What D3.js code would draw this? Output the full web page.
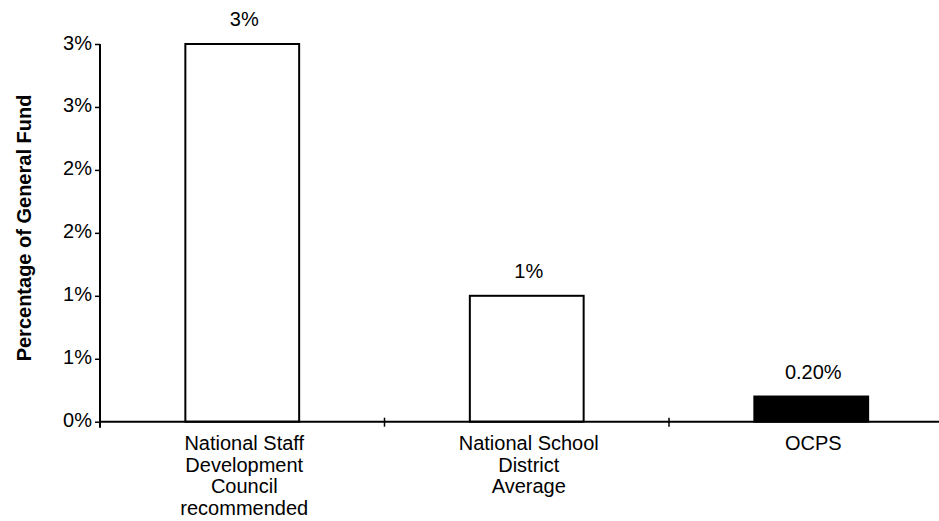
<!DOCTYPE html>
<html>
<head>
<meta charset="utf-8">
<script src="https://cdn.jsdelivr.net/npm/d3@7"></script>
<style>
  html, body { margin: 0; padding: 0; background: #fff; }
  svg { display: block; font-family: "Liberation Sans", Arial, sans-serif; }
</style>
</head>
<body>
<svg id="chart" width="939" height="521"></svg>
<script>
// Share of the general fund spent on staff development
const categories = [
  ["National Staff", "Development", "Council", "recommended"],
  ["National School", "District", "Average"],
  ["OCPS"]
];
const values = [3, 1, 0.2];
const valueLabels = ["3%", "1%", "0.20%"];
const barFills = ["#ffffff", "#ffffff", "#000000"];
const yTickValues = [0, 0.5, 1, 1.5, 2, 2.5, 3];
const yTickLabels = ["0%", "1%", "1%", "2%", "2%", "3%", "3%"];
const yTitle = "Percentage of General Fund";

const svg = d3.select("#chart");
const plotLeft = 100, plotRight = 953.5, plotTop = 44, plotBottom = 421.7;

const x = d3.scaleBand()
  .domain(d3.range(values.length))
  .range([plotLeft, plotRight])
  .paddingInner(0.6)
  .paddingOuter(0.3);

const y = d3.scaleLinear().domain([0, 3]).range([plotBottom, plotTop]);

// bars
svg.append("g").selectAll("rect")
  .data(values)
  .join("rect")
  .attr("x", (d, i) => x(i))
  .attr("y", d => y(d))
  .attr("width", x.bandwidth())
  .attr("height", d => y(0) - y(d))
  .attr("fill", (d, i) => barFills[i])
  .attr("stroke", "#000")
  .attr("stroke-width", 2);

// value labels above bars
svg.append("g").selectAll("text")
  .data(values)
  .join("text")
  .attr("x", (d, i) => x(i) + x.bandwidth() / 2 + 2)
  .attr("y", d => y(d) - 18)
  .attr("text-anchor", "middle")
  .attr("font-size", 20)
  .attr("fill", "#000")
  .text((d, i) => valueLabels[i]);

// y axis
const yAxis = d3.axisLeft(y)
  .tickValues(yTickValues)
  .tickFormat((d, i) => yTickLabels[i])
  .tickSize(5)
  .tickSizeOuter(0)
  .tickPadding(3);

const gy = svg.append("g")
  .attr("transform", `translate(${plotLeft},0)`)
  .call(yAxis);
gy.select(".domain").attr("stroke", "#000").attr("stroke-width", 2)
  .attr("d", `M0,${plotTop}V${plotBottom + 6}`);
gy.selectAll(".tick line").attr("stroke", "#000").attr("stroke-width", 1.5);
gy.selectAll(".tick text")
  .attr("font-size", 20)
  .attr("font-family", "Liberation Sans, Arial, sans-serif")
  .attr("fill", "#000")
  .attr("dy", "0.25em");

// x axis: baseline with tick marks at the category boundaries
const step = x.step();
const boundaries = d3.range(values.length + 1).map(i => plotLeft + i * step);
const gx = svg.append("g");
gx.append("line")
  .attr("x1", plotLeft).attr("x2", plotRight)
  .attr("y1", y(0)).attr("y2", y(0))
  .attr("stroke", "#000").attr("stroke-width", 2);
gx.selectAll("line.tick")
  .data(boundaries.slice(1))
  .join("line")
  .attr("class", "tick")
  .attr("x1", d => d).attr("x2", d => d)
  .attr("y1", y(0) - 4).attr("y2", y(0) + 5)
  .attr("stroke", "#000").attr("stroke-width", 1.5);

// category labels
const catG = svg.append("g");
categories.forEach((lines, i) => {
  const cx = x(i) + x.bandwidth() / 2 + 2;
  const t = catG.append("text")
    .attr("x", cx)
    .attr("y", 450)
    .attr("text-anchor", "middle")
    .attr("font-size", 20)
    .attr("fill", "#000");
  lines.forEach((line, j) => {
    t.append("tspan")
      .attr("x", cx)
      .attr("dy", j === 0 ? 0 : 21.5)
      .text(line);
  });
});

// y axis title
svg.append("text")
  .attr("transform", `translate(31,228) rotate(-90)`)
  .attr("text-anchor", "middle")
  .attr("font-size", 20)
  .attr("font-weight", "bold")
  .attr("fill", "#000")
  .text(yTitle);
</script>
</body>
</html>
